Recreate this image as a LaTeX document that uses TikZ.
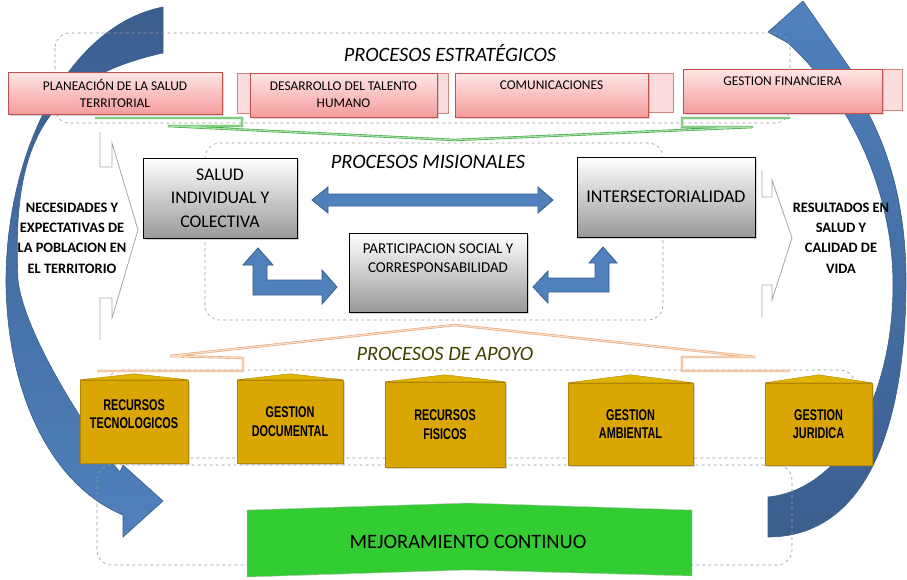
\documentclass[tikz,border=0pt]{standalone}
\usepackage{fontspec}
\setmainfont{Carlito}
\newfontfamily\narrowfont[FakeStretch=0.7]{Liberation Sans}
\usetikzlibrary{positioning,calc,shadows}
\definecolor{mapblue}{HTML}{4F81BD}
\definecolor{mapbluedark}{HTML}{3B5E8E}
\definecolor{mapblueline}{HTML}{385D8A}
\definecolor{pinktop}{HTML}{FFE6E6}
\definecolor{pinkbot}{HTML}{F49C9C}
\definecolor{pinkside}{HTML}{FCDCDC}
\definecolor{pinkline}{HTML}{C0504D}
\definecolor{gold}{HTML}{DAA604}
\definecolor{goldline}{HTML}{B08600}
\definecolor{mejoragreen}{HTML}{33CC33}
\definecolor{olivetext}{HTML}{3F3F00}
\definecolor{linegreen}{HTML}{3FA33F}
\definecolor{linegreenlight}{HTML}{A6E3A6}
\definecolor{lineorange}{HTML}{E3A77A}
\definecolor{lineorangelight}{HTML}{FCDCC4}

\begin{document}
\begin{tikzpicture}[x=1pt, y=-1pt,
    stratbox/.style={rectangle, draw=pinkline, top color=pinktop, bottom color=pinkbot, inner sep=0pt,
                     align=center, font=\fontsize{13.4}{17}\selectfont,
                     drop shadow={opacity=0.3, shadow xshift=1.5pt, shadow yshift=-1.5pt}},
    sideface/.style={draw=pinkline!70, fill=pinkside},
    misbox/.style={rectangle, draw=black, top color=white, bottom color=black!40, inner sep=0pt, align=center,
                   drop shadow={opacity=0.35, shadow xshift=2pt, shadow yshift=-2pt}},
    goldbox/.style={rectangle, draw=goldline, fill=gold, inner sep=0pt, align=center,
                    font=\narrowfont\bfseries\fontsize{15.5}{18.5}\selectfont,
                    drop shadow={opacity=0.3, shadow xshift=1.5pt, shadow yshift=-1.5pt}},
    goldroof/.style={draw=goldline, fill=gold!85!yellow},
    blockarr/.style={draw=mapblueline, fill=mapblue, line width=0.8pt},
    dashbox/.style={draw=black!40, dashed, rounded corners=15pt, line width=0.6pt},
    chev/.style={draw=black!35, line width=0.8pt},
    sidetxt/.style={align=center, font=\bfseries\fontsize{14.4}{20.3}\selectfont},
    titletxt/.style={font=\itshape\fontsize{20.4}{22}\selectfont}
]
\useasboundingbox (0,0) rectangle (907,579);

% curved arrows round the map
\path[draw=mapblueline, top color=mapbluedark, bottom color=mapblue, line width=0.6pt]
  (163,7) .. controls (70,25) and (5,150) .. (6,285)
  .. controls (8,400) and (55,487) .. (123,515)
  -- (123,537) -- (163,501) -- (123,465) -- (120,472)
  .. controls (100,450) and (25,340) .. (18,280)
  .. controls (12,150) and (40,80) .. (163,53) -- cycle;
\path[draw=mapblueline, top color=mapblue, bottom color=mapbluedark, line width=0.6pt]
  (840,70) .. controls (880,120) and (906,190) .. (906,280)
  .. controls (906,440) and (860,537) .. (768,537)
  -- (768,497)
  .. controls (840,490) and (893,400) .. (893,285)
  .. controls (893,190) and (850,100) .. (788,43)
  -- (768,32) -- (803,1) -- (858,80) -- cycle;

% dashed frames
\draw[dashbox] (55,33) rectangle (790,123);
\draw[dashbox] (205,143) rectangle (663,320);
\draw[dashbox] (107,370) rectangle (855,458);
\draw[dashbox] (97,465) rectangle (792,565);

% strategic processes
\node[titletxt] (tEst) at (450,53) {PROCESOS ESTRATÉGICOS};
\node[stratbox, minimum width=214pt, minimum height=42pt] (planea) at (115,93) {PLANEACIÓN DE LA SALUD\\TERRITORIAL};
\draw[sideface] (237,73) rectangle (448,113);
\node[stratbox, minimum width=187pt, minimum height=44pt] (talento) at (343.5,95) {DESARROLLO DEL TALENTO\\HUMANO};
\draw[sideface] (640,73) rectangle (673,112);
\node[stratbox, minimum width=193pt, minimum height=44pt, text depth=19pt] (comunic) at (551.5,95) {COMUNICACIONES};
\draw[sideface] (860,69) rectangle (902,110);
\node[stratbox, minimum width=199pt, minimum height=44pt, text depth=19pt] (financ) at (782.5,91) {GESTION FINANCIERA};

\draw[draw=linegreen, double=linegreenlight, double distance=1.2pt, line width=0.6pt]
  (95,118) -- (242,118) -- (242,126) -- (168,126) -- (455,140) -- (753,127) -- (682,127) -- (682,118) -- (790,118);

% mission processes
\node[titletxt] (tMis) at (428,162) {PROCESOS MISIONALES};
\node[misbox, minimum width=154pt, minimum height=80pt, font=\fontsize{17.8}{23.5}\selectfont] (salud) at (220,198) {SALUD\\INDIVIDUAL Y\\COLECTIVA};
\node[misbox, minimum width=178pt, minimum height=80pt, font=\fontsize{18}{20}\selectfont] (intersec) at (666,197) {INTERSECTORIALIDAD};
\node[misbox, minimum width=178pt, minimum height=79pt, text depth=29pt, font=\fontsize{15}{19.5}\selectfont] (particip) at (438,272.5) {PARTICIPACION SOCIAL Y\\CORRESPONSABILIDAD};

\draw[blockarr] (312,200) -- (328,187) -- (328,194) -- (538,194) -- (538,187) -- (553,200) -- (538,213) -- (538,206) -- (328,206) -- (328,213) -- cycle;
\draw[blockarr] (258,248) -- (273,265) -- (267,265) -- (267,280) -- (322,280) -- (322,270) -- (337,287) -- (322,304) -- (322,295) -- (253,295) -- (253,265) -- (243,265) -- cycle;
\draw[blockarr] (603,247) -- (617,263) -- (609,263) -- (609,292) -- (548,292) -- (548,303) -- (533,287) -- (548,271) -- (548,278) -- (595,278) -- (595,263) -- (589,263) -- cycle;

% inputs and outputs
\draw[chev] (100,132) -- (100,167) -- (112,167) -- (112,143) -- (138,230) -- (112,318) -- (112,298) -- (100,298) -- (100,340);
\node[sidetxt] (necesid) at (72,238) {NECESIDADES Y\\EXPECTATIVAS DE\\LA POBLACION EN\\EL TERRITORIO};
\draw[chev] (762,170) -- (762,197) -- (772,197) -- (772,180) -- (792,238) -- (772,300) -- (772,285) -- (762,285) -- (762,317);
\node[sidetxt] (result) at (841,238) {RESULTADOS EN\\SALUD Y\\CALIDAD DE\\VIDA};

% support processes
\draw[draw=lineorange, double=lineorangelight, double distance=1.2pt, line width=0.6pt]
  (97,371) -- (243,371) -- (243,358) -- (170,356) -- (455,325) -- (755,357) -- (682,357) -- (682,371) -- (790,371);
\node[titletxt, text=olivetext] (tApo) at (445,354) {PROCESOS DE APOYO};

\node[goldbox, minimum width=108pt, minimum height=83pt, text depth=15pt] (tecno) at (134,421.5) {RECURSOS\\TECNOLOGICOS};
\node[goldbox, minimum width=106pt, minimum height=83pt] (docum) at (290,421.5) {GESTION\\DOCUMENTAL};
\node[goldbox, minimum width=120pt, minimum height=85pt] (fisicos) at (445,424.5) {RECURSOS\\FISICOS};
\node[goldbox, minimum width=125pt, minimum height=82pt] (ambient) at (630.5,424) {GESTION\\AMBIENTAL};
\node[goldbox, minimum width=107pt, minimum height=82pt] (juridic) at (818.5,424) {GESTION\\JURIDICA};
\draw[goldroof] (tecno.north west) -- ([yshift=6pt]tecno.north) -- (tecno.north east) -- cycle;
\draw[goldroof] (docum.north west) -- ([yshift=6pt]docum.north) -- (docum.north east) -- cycle;
\draw[goldroof] (fisicos.north west) -- ([yshift=7pt]fisicos.north) -- (fisicos.north east) -- cycle;
\draw[goldroof] (ambient.north west) -- ([yshift=8pt]ambient.north) -- (ambient.north east) -- cycle;
\draw[goldroof] (juridic.north west) -- ([yshift=8pt]juridic.north) -- (juridic.north east) -- cycle;

% continuous improvement
\path[fill=mejoragreen, draw=black!25] (247,510) -- (468,503) -- (692,510) -- (692,576) -- (468,570) -- (247,577) -- cycle;
\node[font=\fontsize{20.5}{24}\selectfont] (mejora) at (468,542) {MEJORAMIENTO CONTINUO};
\end{tikzpicture}
\end{document}
